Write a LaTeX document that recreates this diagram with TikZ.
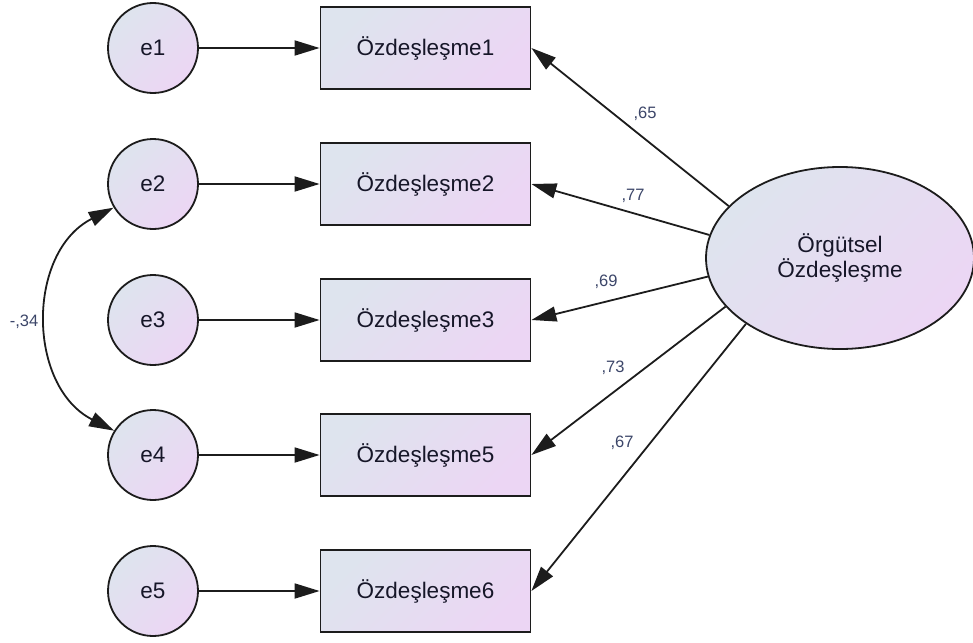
\documentclass[tikz,border=0pt]{standalone}
\usepackage{fontspec}
\setmainfont{Liberation Sans}
\usetikzlibrary{arrows.meta,shapes.geometric}
\definecolor{shadeA}{RGB}{222,228,238}
\definecolor{shadeB}{RGB}{236,214,244}
\definecolor{inkline}{RGB}{28,28,28}
\definecolor{txt}{RGB}{22,22,40}
\definecolor{coef}{RGB}{60,70,105}
\begin{document}
\begin{tikzpicture}[x=1pt,y=1pt,
  grad/.style={top color=shadeA,bottom color=shadeB,shading angle=45},
  errnode/.style={circle,draw=inkline,line width=1.8pt,grad,minimum size=90pt,
    inner sep=0pt,font=\fontsize{22.5}{25}\selectfont,text=txt},
  obsnode/.style={rectangle,draw=inkline,line width=1.8pt,grad,minimum width=210pt,
    minimum height=82pt,inner sep=0pt,font=\fontsize{22.5}{25}\selectfont,text=txt},
  latnode/.style={ellipse,draw=inkline,line width=1.8pt,grad,minimum width=268pt,
    minimum height=182pt,inner sep=0pt,align=center,
    font=\fontsize{22.5}{25}\selectfont,text=txt},
  path/.style={draw=inkline,line width=1.8pt,-{Triangle[length=25pt,width=15pt]}},
  covpath/.style={draw=inkline,line width=1.8pt,
    {Triangle[length=25pt,width=15pt]}-{Triangle[length=25pt,width=15pt]}},
  coeflabel/.style={font=\fontsize{16.5}{18}\selectfont,text=coef,inner sep=0pt}
]
\useasboundingbox (0,0) rectangle (973,-642);

% error terms
\node[errnode] (e1) at (153,-48)  {e1};
\node[errnode] (e2) at (153,-184) {e2};
\node[errnode] (e3) at (153,-320) {e3};
\node[errnode] (e4) at (153,-455) {e4};
\node[errnode] (e5) at (153,-591) {e5};

% observed indicators
\node[obsnode] (o1) at (425.5,-48)  {Özdeşleşme1};
\node[obsnode] (o2) at (425.5,-184) {Özdeşleşme2};
\node[obsnode] (o3) at (425.5,-320) {Özdeşleşme3};
\node[obsnode] (o5) at (425.5,-455) {Özdeşleşme5};
\node[obsnode] (o6) at (425.5,-591) {Özdeşleşme6};

% latent factor
\node[latnode] (lv) at (840,-258) {Örgütsel\\Özdeşleşme};

% error paths
\draw[path] (e1.east) -- (o1.west);
\draw[path] (e2.east) -- (o2.west);
\draw[path] (e3.east) -- (o3.west);
\draw[path] (e4.east) -- (o5.west);
\draw[path] (e5.east) -- (o6.west);

% factor loadings
\draw[path] (lv.155.7) -- (o1.east);
\draw[path] (lv.170.7) -- (o2.east);
\draw[path] (lv.188.6) -- (o3.east);
\draw[path] (lv.203.9) -- (o5.east);
\draw[path] (lv.215.8) -- (o6.east);

% error covariance
\draw[covpath] (e2.211) .. controls +(207:98) and +(153:98) .. (e4.148);

% estimates
\node[coeflabel] (c1) at (645,-114) {,65};
\node[coeflabel] (c2) at (633,-196) {,77};
\node[coeflabel] (c3) at (606,-282) {,69};
\node[coeflabel] (c5) at (613,-368) {,73};
\node[coeflabel] (c6) at (622,-443) {,67};
\node[coeflabel] (c7) at (24,-322) {-,34};
\end{tikzpicture}
\end{document}
